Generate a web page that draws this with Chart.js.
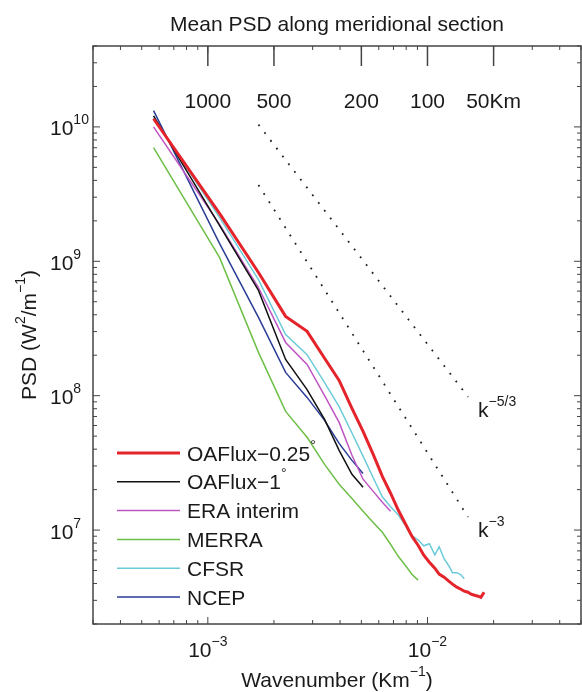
<!DOCTYPE html>
<html>
<head>
<meta charset="utf-8">
<title>Mean PSD along meridional section</title>
<script src="https://cdn.jsdelivr.net/npm/chart.js@4.4.1/dist/chart.umd.min.js"></script>
<style>
  html, body { margin: 0; padding: 0; background: #fff; }
  #wrap { width: 582px; height: 692px; }
</style>
</head>
<body>
<div id="wrap"><canvas id="psdChart"></canvas></div>
<script>
// wavenumber samples (Km^-1)
const wavenumber = [0.000566, 0.00113, 0.0017, 0.00226, 0.00283, 0.0034, 0.00396, 0.00453,
  0.00509, 0.00566, 0.00623, 0.00679, 0.00736, 0.00792, 0.00849, 0.00906, 0.00962, 0.0102,
  0.0108, 0.0113, 0.0119, 0.0125, 0.013, 0.0136, 0.0142, 0.0147, 0.0153, 0.0158, 0.0164,
  0.017, 0.0175, 0.0181];

// PSD (W^2/m^-1), one list per product
const oaflux025 = [1.15e10, 2.27e9, 8.26e8, 3.89e8, 3.01e8, 1.90e8, 1.30e8, 8.05e7, 5.43e7,
  3.66e7, 2.51e7, 1.88e7, 1.41e7, 1.12e7, 9.0e6, 7.71e6, 6.50e6, 5.77e6, 5.20e6, 4.70e6,
  4.46e6, 4.17e6, 3.96e6, 3.76e6, 3.63e6, 3.51e6, 3.45e6, 3.33e6, 3.27e6, 3.22e6, 3.16e6, 3.45e6];
const oaflux1 = [1.21e10, 1.85e9, 6.07e8, 1.86e8, 1.11e8, 6.66e7, 3.92e7, 2.60e7, 2.08e7];
const eraInterim = [1.0e10, 1.88e9, 6.38e8, 2.49e8, 1.71e8, 1.0e8, 6.33e7, 3.60e7, 2.39e7,
  1.94e7, 1.61e7, 1.38e7];
const merra = [7.0e9, 1.07e9, 2.10e8, 7.64e7, 4.90e7, 3.08e7, 2.19e7, 1.72e7, 1.38e7, 1.14e7,
  9.63e6, 7.84e6, 6.38e6, 5.47e6, 4.69e6, 4.24e6];
const cfsr = [1.17e10, 2.12e9, 7.30e8, 2.85e8, 2.02e8, 1.25e8, 8.30e7, 5.28e7, 3.55e7, 2.45e7,
  1.77e7, 1.49e7, 1.30e7, 1.09e7, 9.07e6, 8.47e6, 7.64e6, 7.91e6, 6.55e6, 7.51e6, 6.12e6,
  5.43e6, 4.82e6, 4.82e6, 4.65e6, 4.34e6];
const ncep = [1.32e10, 1.36e9, 3.82e8, 1.49e8, 9.71e7, 6.55e7, 4.42e7, 3.30e7, 2.64e7];

const seriesNames = ["OAFlux\u22120.25", "OAFlux\u22121", "ERA interim", "MERRA", "CFSR", "NCEP"];
const seriesDegree = [true, true, false, false, false, false];
const seriesColors = ["#e4232b", "#111111", "#bf55c2", "#6dbf47", "#6ccbd8", "#2a3d96"];

// reference slopes
const refK = [0.0017, 0.0153];
const slope53 = [1.04e10, 9.8e7];
const slope3 = [3.7e9, 1.25e7];
const refLabels = [["k", "\u22125/3"], ["k", "\u22123"]];

// top axis wavelengths
const wavelengthKm = [1000, 500, 200, 100, 50];
const wavelengthLabels = ["1000", "500", "200", "100", "50Km"];

const xDecades = [1e-3, 1e-2];
const yDecades = [1e7, 1e8, 1e9, 1e10];

const FONT = '"Liberation Sans", Arial, Helvetica, sans-serif';
const AXIS = "#444";
const TEXT = "#1a1a1a";

function pts(xs, ys) {
  return ys.map((v, i) => ({ x: xs[i], y: v }));
}

// draw text parts, some as superscripts; returns width
function powText(ctx, parts, x, y, align) {
  let w = 0;
  parts.forEach(p => { ctx.font = (p[1] ? 14 : 21) + "px " + FONT; w += ctx.measureText(p[0]).width; });
  let cx = align === "center" ? x - w / 2 : (align === "right" ? x - w : x);
  ctx.textAlign = "left";
  ctx.textBaseline = "alphabetic";
  parts.forEach(p => {
    ctx.font = (p[1] ? 14 : 21) + "px " + FONT;
    ctx.fillText(p[0], cx, p[1] ? y - 11 : y);
    cx += ctx.measureText(p[0]).width;
  });
  return w;
}

function seg(ctx, x1, y1, x2, y2) {
  ctx.beginPath();
  ctx.moveTo(x1, y1);
  ctx.lineTo(x2, y2);
  ctx.stroke();
}

const lists = [oaflux025, oaflux1, eraInterim, merra, cfsr, ncep];
const datasets = lists.map((ys, i) => ({
  label: seriesNames[i],
  data: pts(wavenumber, ys),
  borderColor: seriesColors[i],
  borderWidth: i === 0 ? 3 : 1.5,
  pointRadius: 0,
  tension: 0,
  fill: false
}));
[slope53, slope3].forEach((ys, i) => {
  datasets.push({
    label: "ref" + i,
    data: pts(refK, ys),
    borderColor: "#222",
    borderWidth: 1.8,
    borderDash: [1.8, 8],
    pointRadius: 0,
    fill: false
  });
});

const decorPlugin = {
  id: "decor",
  afterDraw(chart) {
    const ctx = chart.ctx;
    const a = chart.chartArea;
    const xs = chart.scales.x, ys = chart.scales.y;
    ctx.save();
    ctx.fillStyle = TEXT;

    // title
    ctx.font = "21px " + FONT;
    ctx.textAlign = "center";
    ctx.fillText("Mean PSD along meridional section", (a.left + a.right) / 2, a.top - 15);

    // box
    ctx.strokeStyle = AXIS;
    ctx.lineWidth = 1.5;
    ctx.strokeRect(a.left, a.top, a.right - a.left, a.bottom - a.top);

    // inward ticks
    ctx.lineWidth = 1;
    for (let e = -4; e <= -1; e++) {
      for (let m = 1; m <= 9; m++) {
        const v = m * Math.pow(10, e);
        if (v < xs.min || v > xs.max) continue;
        const px = xs.getPixelForValue(v);
        const len = m === 1 ? 7 : 4;
        seg(ctx, px, a.bottom, px, a.bottom - len);
        seg(ctx, px, a.top, px, a.top + len);
      }
    }
    for (let e = 6; e <= 10; e++) {
      for (let m = 1; m <= 9; m++) {
        const v = m * Math.pow(10, e);
        if (v < ys.min || v > ys.max) continue;
        const py = ys.getPixelForValue(v);
        const len = m === 1 ? 7 : 4;
        seg(ctx, a.left, py, a.left + len, py);
        seg(ctx, a.right, py, a.right - len, py);
      }
    }

    // wavelength ticks and labels on top
    ctx.lineWidth = 1.5;
    wavelengthKm.forEach((km, i) => {
      const px = xs.getPixelForValue(1 / km);
      seg(ctx, px, a.top, px, a.top + 20);
      ctx.font = "21px " + FONT;
      ctx.textAlign = "center";
      ctx.fillText(wavelengthLabels[i], px, a.top + 62);
    });

    // tick labels
    xDecades.forEach(v => {
      const px = xs.getPixelForValue(v);
      powText(ctx, [["10"], ["\u2212" + Math.abs(Math.round(Math.log10(v))), 1]], px, a.bottom + 33, "center");
    });
    yDecades.forEach(v => {
      const py = ys.getPixelForValue(v);
      powText(ctx, [["10"], [String(Math.round(Math.log10(v))), 1]], a.left - 43, py + 8.5, "left");
    });

    // axis titles
    powText(ctx, [["Wavenumber (Km"], ["\u22121", 1], [")"]], (a.left + a.right) / 2, a.bottom + 63, "center");
    ctx.save();
    ctx.translate(28, (a.top + a.bottom) / 2);
    ctx.rotate(-Math.PI / 2);
    powText(ctx, [["PSD (W"], ["2", 1], ["/m"], ["\u22121", 1], [")"]], 0, 7.5, "center");
    ctx.restore();

    // slope labels at the end of the dotted lines
    [6, 7].forEach((di, i) => {
      const meta = chart.getDatasetMeta(di);
      const last = meta.data[meta.data.length - 1];
      powText(ctx, [[refLabels[i][0]], [refLabels[i][1], 1]], last.x + 10, last.y + 20, "left");
    });

    // legend
    const lx1 = a.left + 24, lx2 = a.left + 87, tx = a.left + 94;
    const ly0 = a.bottom - 171, step = 28.8;
    seriesNames.forEach((name, i) => {
      const y = ly0 + i * step;
      ctx.strokeStyle = seriesColors[i];
      ctx.lineWidth = i === 0 ? 3 : 1.5;
      seg(ctx, lx1, y, lx2, y);
      ctx.fillStyle = TEXT;
      const parts = [[name]];
      if (seriesDegree[i]) parts.push(["\u00b0", 1]);
      powText(ctx, parts, tx, y + 7.5, "left");
    });

    ctx.restore();
  }
};

window.onload = function () {
  const ctx = document.getElementById("psdChart").getContext("2d");
  new Chart(ctx, {
    type: "line",
    data: { datasets: datasets },
    options: {
      responsive: true,
      maintainAspectRatio: false,
      devicePixelRatio: 1,
      animation: false,
      layout: { padding: { left: 93, right: 1, top: 46, bottom: 68 } },
      plugins: { legend: { display: false }, tooltip: { enabled: false }, title: { display: false } },
      scales: {
        x: { type: "logarithmic", min: 3e-4, max: 5e-2, bounds: "data", display: false },
        y: { type: "logarithmic", min: 2e6, max: 4e10, bounds: "data", display: false }
      }
    },
    plugins: [decorPlugin]
  });
};
</script>
</body>
</html>
